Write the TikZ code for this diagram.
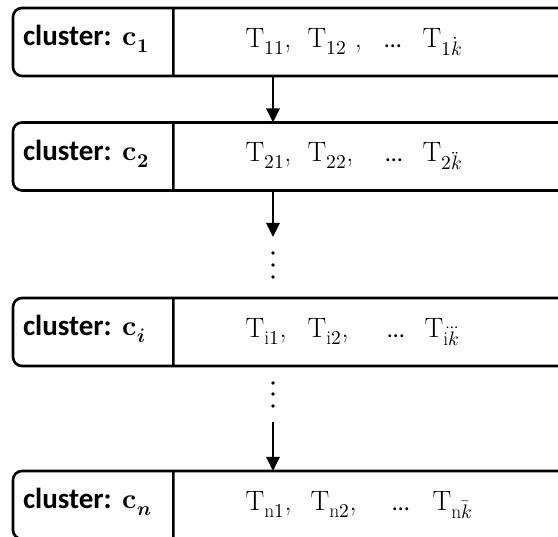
\documentclass[tikz,border=0pt]{standalone}
\usepackage{amsmath}
\usepackage{unicode-math}
\newfontfamily\calibri{Carlito}
\usetikzlibrary{shapes.multipart,arrows.meta}

\tikzset{
  cluster/.style={rectangle split, rectangle split horizontal, rectangle split parts=2,
    draw, line width=2.6pt, rounded corners=9pt, inner xsep=0pt, inner ysep=0pt,
    outer sep=0pt, anchor=west, font=\fontsize{28}{33}\selectfont},
  flow/.style={line width=2.6pt, -{Triangle[width=13pt,length=14pt]}},
  vdot/.style={circle, fill, inner sep=0pt, minimum size=3.8pt},
}
\newcommand{\clname}[1]{\makebox[159pt][l]{\hspace{10pt}\rule[-30pt]{0pt}{68pt}%
  {\calibri\bfseries\fontsize{29}{34}\selectfont cluster:} $\symbf{c}_{#1}$}}
\newcommand{\slot}[2]{\makebox[#1][l]{#2}}
\newcommand{\tdots}{{\calibri\fontsize{24}{28}\selectfont …}}

\begin{document}
\begin{tikzpicture}[x=1pt,y=1pt]
  \clip (0,-537) rectangle (558,0);

  \node[cluster] (c1) at (13,-42) {\clname{\symbf{1}}
    \nodepart{two}\makebox[393pt][l]{\hspace{71pt}\slot{62pt}{$\mathrm{T}_{11}$,}\slot{77pt}{$\mathrm{T}_{12}$ ,}%
      \slot{38pt}{\tdots}$\mathrm{T}_{1\dot{k}}$}};
  \node[cluster] (c2) at (13,-156.5) {\clname{\symbf{2}}
    \nodepart{two}\makebox[393pt][l]{\hspace{71pt}\slot{62pt}{$\mathrm{T}_{21}$,}\slot{78pt}{$\mathrm{T}_{22}$,}%
      \slot{37pt}{\tdots}$\mathrm{T}_{2\ddot{k}}$}};
  \node[cluster] (ci) at (13,-332) {\clname{\symbfit{i}}
    \nodepart{two}\makebox[393pt][l]{\hspace{71pt}\slot{62pt}{$\mathrm{T}_{\mathrm{i}1}$,}\slot{80pt}{$\mathrm{T}_{\mathrm{i}2}$,}%
      \slot{37pt}{\tdots}$\mathrm{T}_{\mathrm{i}\dddot{k}}$}};
  \node[cluster] (cn) at (13,-505) {\clname{\symbfit{n}}
    \nodepart{two}\makebox[393pt][l]{\hspace{71pt}\slot{65pt}{$\mathrm{T}_{\mathrm{n}1}$,}\slot{82pt}{$\mathrm{T}_{\mathrm{n}2}$,}%
      \slot{40pt}{\tdots}$\mathrm{T}_{\mathrm{n}\bar{k}}$}};

  \coordinate (axis) at (273,0);
  \coordinate (gap1) at (273,-237);
  \coordinate (gap2) at (273,-422);

  % dots between the clusters
  \node[vdot] (d1) at (273,-253) {};
  \node[vdot] (d2) at (273,-265) {};
  \node[vdot] (d3) at (273,-277) {};
  \node[vdot] (d4) at (273,-383) {};
  \node[vdot] (d5) at (273,-394) {};
  \node[vdot] (d6) at (273,-406) {};

  \draw[flow] (c1.south -| axis) -- (c2.north -| axis);
  \draw[flow] (c2.south -| axis) -- (gap1);
  \draw[flow] (gap2) -- (cn.north -| axis);
\end{tikzpicture}
\end{document}
